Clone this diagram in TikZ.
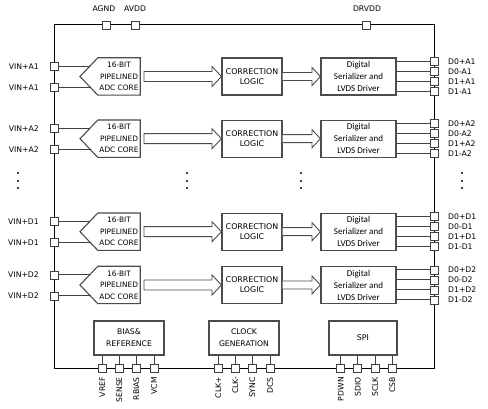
\documentclass[tikz,border=0pt]{standalone}
\usepackage{fontspec}
\setmainfont{DejaVu Sans}
\newfontfamily\carl{Carlito}
\begin{document}
\begin{tikzpicture}[x=1pt,y=-1pt,
  pinbox/.style={draw=black!75, fill=white, minimum size=8pt, inner sep=0pt, line width=0.9pt},
  blk/.style={draw=black!70, line width=1.1pt, fill=white},
  conn/.style={draw=black!75, line width=1pt},
  bus/.style={draw=black, line width=1pt},
  lbl/.style={font=\fontsize{7.7}{9}\selectfont, inner sep=0pt},
  boxtxt/.style={font=\fontsize{7.9}{10}\selectfont, align=center, inner sep=0pt},
  dot/.style={fill=black}]
\useasboundingbox (0,0) rectangle (488,409);
% frame (bus)
\coordinate (ftl) at (54,25);
\coordinate (ftr) at (434,25);
\coordinate (fbr) at (434,368.5);
\coordinate (fbl) at (54,368.5);
\draw[bus] (ftl) -- (ftr) -- (fbr) -- (fbl) -- cycle;
% top pins
\node[pinbox] (agnd) at (106,25) {};
\node[pinbox] (avdd) at (135,25) {};
\node[pinbox] (drvdd) at (366,25) {};
\node[lbl] (tagnd) at (104,9) {AGND};
\node[lbl] (tavdd) at (135,9) {AVDD};
\node[lbl] (tdrvdd) at (367,9) {DRVDD};
% rows
\foreach \r/\y in {A1/76.5,A2/138.7,D1/231.7,D2/285}{
  \node[minimum width=42pt, minimum height=37pt, inner sep=0pt] (adc\r) at (119,\y) {};
  \draw[blk] (adc\r.north east) -- (adc\r.north west) -- (80,\y) -- (adc\r.south west) -- (adc\r.south east) -- cycle;
  \node[boxtxt, font=\fontsize{7.4}{11.5}\selectfont] (adct\r) at (119,\y) {16-BIT\\PIPELINED\\ADC CORE};
  \node[blk, minimum width=60pt, minimum height=37pt, boxtxt] (corr\r) at (252,\y) {CORRECTION\\LOGIC};
  \node[blk, minimum width=75pt, minimum height=37pt, align=center, inner sep=0pt,
        font=\carl\fontsize{9}{12}\selectfont] (dig\r) at (358.5,\y) {Digital\\Serializer and\\LVDS Driver};
  % arrows
  \draw[blk, line width=0.9pt] (144,\y-5) -- (212,\y-5) -- (212,\y-10) -- (corr\r.west) -- (212,\y+10) -- (212,\y+5) -- (144,\y+5) -- cycle;
  \draw[blk, line width=0.9pt] (corr\r.east |- 0,\y-4) -- (312,\y-4) -- (312,\y-9) -- (dig\r.west) -- (312,\y+9) -- (312,\y+4) -- (corr\r.east |- 0,\y+4);
  % left pins
  \node[pinbox] (vp\r) at (54,\y-10) {};
  \node[pinbox] (vn\r) at (54,\y+11) {};
  \coordinate (ip\r) at (89.7,\y-10);
  \coordinate (in\r) at (90.7,\y+11);
  \draw[conn] (vp\r.east) -- (ip\r);
  \draw[conn] (vn\r.east) -- (in\r);
  \node[lbl, anchor=east] (lp\r) at (39,\y-10) {VIN+\r};
  \node[lbl, anchor=east] (ln\r) at (39,\y+11) {VIN+\r};
  % right pins
  \foreach \k/\dy/\n in {1/-15/D0+,2/-5/D0-,3/5/D1+,4/15/D1-}{
    \node[pinbox] (o\k\r) at (434,\y+\dy) {};
    \draw[conn] (dig\r.east |- o\k\r) -- (o\k\r.west);
    \node[lbl, anchor=west] (ol\k\r) at (448,\y+\dy) {\n\r};
  }
}
% dots
\foreach \x in {18,187,301,462}{
  \foreach \yy in {173,181,188}{
    \fill[dot] (\x,\yy) circle (1.2);
  }
}
% bottom blocks
\node[blk, minimum width=70pt, minimum height=34pt, boxtxt, font=\fontsize{7.7}{12}\selectfont] (bias) at (129,338) {BIAS\&\\REFERENCE};
\node[blk, minimum width=70pt, minimum height=34pt, boxtxt, font=\fontsize{7.7}{12}\selectfont] (clk) at (244,338) {CLOCK\\GENERATION};
\node[blk, minimum width=68pt, minimum height=34pt, boxtxt] (spi) at (363,338) {SPI};
\foreach \b/\x/\t in {bias/102.3/VREF,bias/119.3/SENSE,bias/136.3/RBIAS,bias/154/VCM,
                      clk/218.3/CLK+,clk/235.3/CLK-,clk/252.3/SYNC,clk/270/DCS,
                      spi/340.7/PDWN,spi/357.7/SDIO,spi/375/SCLK,spi/392.3/CSB}{
  \node[pinbox] (bp\t) at (\x,368.5) {};
  \draw[conn] (\b.south -| bp\t) -- (bp\t.north);
  \node[lbl, rotate=90, anchor=east] (bl\t) at (\x,377) {\t};
}
\end{tikzpicture}
\end{document}
